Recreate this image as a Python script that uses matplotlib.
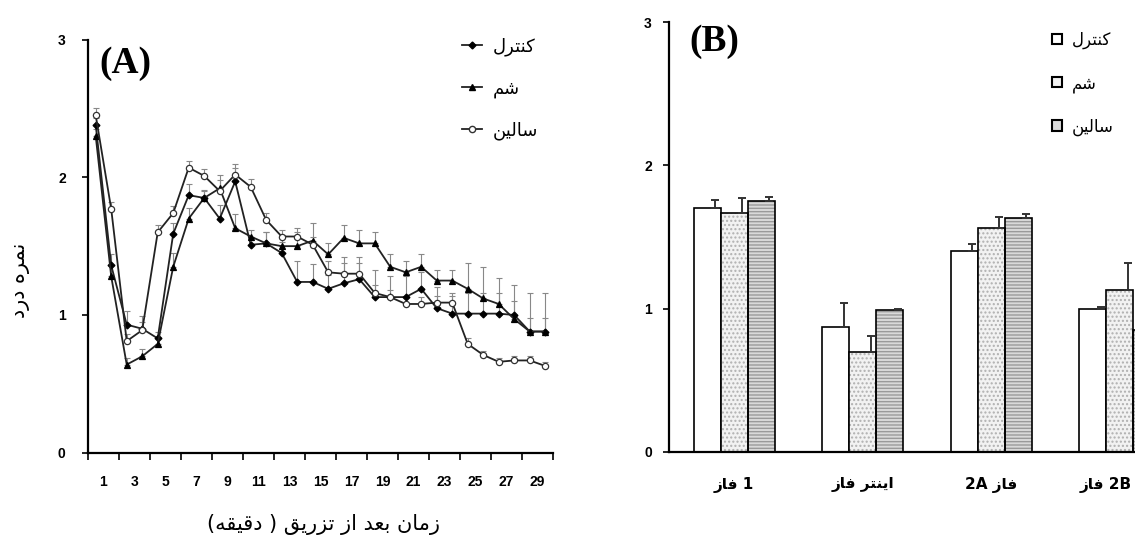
import matplotlib
matplotlib.use("Agg")
import matplotlib.pyplot as plt
import matplotlib.transforms as mtransforms
from matplotlib.lines import Line2D
from matplotlib.patches import Patch
import numpy as np

# ---------------- data ----------------
minutes = list(range(1, 31))
tick_labels_a = ["1", "3", "5", "7", "9", "11", "13", "15", "17", "19", "21", "23", "25", "27", "29"]

control = [2.38, 1.36, 0.93, 0.90, 0.83, 1.59, 1.87, 1.85, 1.70, 1.97, 1.51, 1.52, 1.45, 1.24, 1.24,
           1.19, 1.23, 1.26, 1.13, 1.13, 1.13, 1.19, 1.05, 1.01, 1.01, 1.01, 1.01, 1.00, 0.88, 0.88]
control_err = [0.05, 0.08, 0.10, 0.05, 0.05, 0.08, 0.08, 0.06, 0.10, 0.10, 0.06, 0.08, 0.08, 0.15, 0.13,
               0.10, 0.19, 0.16, 0.20, 0.15, 0.15, 0.12, 0.15, 0.15, 0.15, 0.15, 0.15, 0.10, 0.10, 0.10]
sham = [2.30, 1.28, 0.64, 0.70, 0.79, 1.35, 1.70, 1.85, 1.92, 1.63, 1.57, 1.52, 1.50, 1.50, 1.54,
        1.44, 1.56, 1.52, 1.52, 1.35, 1.31, 1.35, 1.25, 1.25, 1.19, 1.12, 1.08, 0.97, 0.88, 0.88]
sham_err = [0.05, 0.08, 0.05, 0.05, 0.05, 0.10, 0.08, 0.05, 0.10, 0.10, 0.05, 0.08, 0.08, 0.10, 0.13,
            0.08, 0.09, 0.10, 0.08, 0.09, 0.08, 0.09, 0.08, 0.08, 0.19, 0.23, 0.19, 0.25, 0.28, 0.28]
saline = [2.45, 1.77, 0.81, 0.89, 1.60, 1.74, 2.07, 2.01, 1.90, 2.02, 1.93, 1.69, 1.57, 1.57, 1.51,
          1.31, 1.30, 1.30, 1.16, 1.13, 1.08, 1.08, 1.09, 1.09, 0.79, 0.71, 0.66, 0.67, 0.67, 0.63]
saline_err = [0.05, 0.05, 0.05, 0.10, 0.05, 0.05, 0.05, 0.05, 0.08, 0.08, 0.06, 0.05, 0.05, 0.06, 0.06,
              0.08, 0.08, 0.08, 0.06, 0.05, 0.05, 0.05, 0.05, 0.05, 0.04, 0.03, 0.03, 0.03, 0.03, 0.03]

phases = ["phase1", "inter", "phase2A", "phase2B"]
bar_control = [1.70, 0.87, 1.40, 1.00]
bar_control_err = [0.06, 0.17, 0.05, 0.01]
bar_sham = [1.67, 0.70, 1.56, 1.13]
bar_sham_err = [0.10, 0.11, 0.08, 0.19]
bar_saline = [1.75, 0.99, 1.63, 0.85]
bar_saline_err = [0.03, 0.01, 0.03, 0.17]

# ---------------- simple Persian shaping (visual order) ----------------
FORMS = {  # isolated, final, initial, medial
    'ا': ('\uFE8D', '\uFE8E', None, None),
    'ب': ('\uFE8F', '\uFE90', '\uFE91', '\uFE92'),
    'ت': ('\uFE95', '\uFE96', '\uFE97', '\uFE98'),
    'د': ('\uFEA9', '\uFEAA', None, None),
    'ر': ('\uFEAD', '\uFEAE', None, None),
    'ز': ('\uFEAF', '\uFEB0', None, None),
    'س': ('\uFEB1', '\uFEB2', '\uFEB3', '\uFEB4'),
    'ش': ('\uFEB5', '\uFEB6', '\uFEB7', '\uFEB8'),
    'ع': ('\uFEC9', '\uFECA', '\uFECB', '\uFECC'),
    'ف': ('\uFED1', '\uFED2', '\uFED3', '\uFED4'),
    'ق': ('\uFED5', '\uFED6', '\uFED7', '\uFED8'),
    'ل': ('\uFEDD', '\uFEDE', '\uFEDF', '\uFEE0'),
    'م': ('\uFEE1', '\uFEE2', '\uFEE3', '\uFEE4'),
    'ن': ('\uFEE5', '\uFEE6', '\uFEE7', '\uFEE8'),
    'ه': ('\uFEE9', '\uFEEA', '\uFEEB', '\uFEEC'),
    'ک': ('\uFB8E', '\uFB8F', '\uFB90', '\uFB91'),
    'ی': ('\uFBFC', '\uFBFD', '\uFBFE', '\uFBFF'),
}


def ar(text):
    """Shape Persian letters and return them in visual (left-to-right) order."""
    out = []
    n = len(text)
    for i, ch in enumerate(text):
        f = FORMS.get(ch)
        if f is None:
            out.append(ch)
            continue
        prev = text[i - 1] if i > 0 else None
        nxt = text[i + 1] if i < n - 1 else None
        jp = prev in FORMS and FORMS[prev][2] is not None
        jn = nxt in FORMS and f[2] is not None
        if jp and jn:
            out.append(f[3])
        elif jp:
            out.append(f[1])
        elif jn:
            out.append(f[2])
        else:
            out.append(f[0])
    mirror = {'(': ')', ')': '('}
    return ''.join(mirror.get(c, c) for c in reversed(out))


lab_control = ar('کنترل')
lab_sham = ar('شم')
lab_saline = ar('سالین')
xlabel_a = ar('زمان بعد از تزریق ( دقیقه)')
ylabel = ar('نمره درد')
phase_labels = [ar('فاز') + ' 1', ar('اینتر فاز'), '2A ' + ar('فاز'), ar('فاز') + ' 2B']

AFONT = ['DejaVu Sans']

# ---------------- figure ----------------
fig = plt.figure(figsize=(11.35, 5.49), dpi=100)
fig.patch.set_facecolor('white')

# ----- panel A -----
ax = fig.add_axes([0.0775, 0.1754, 0.4097, 0.7525])
x = np.array(minutes)
line_col = '#222222'
styles = [
    (control, control_err, 'D', 'black', 'black', 3.5),
    (sham, sham_err, '^', 'black', 'black', 4.5),
    (saline, saline_err, 'o', 'white', '#333333', 4.5),
]
for vals, err, mk, mfc, mec, ms in styles:
    ax.errorbar(x, vals, yerr=[np.zeros(len(err)), err], fmt='none', ecolor='#888888',
                elinewidth=0.8, capsize=2, capthick=0.8, zorder=2)
for vals, err, mk, mfc, mec, ms in styles:
    ax.plot(x, vals, color=line_col, lw=1.3, marker=mk, ms=ms, mfc=mfc, mec=mec, mew=0.9, zorder=3)

ax.set_xlim(0.5, 30.5)
ax.set_ylim(0, 3)
ax.spines['top'].set_visible(False)
ax.spines['right'].set_visible(False)
ax.spines['left'].set_linewidth(1.6)
ax.spines['bottom'].set_linewidth(1.6)
ax.set_xticks(np.arange(1.5, 30.5, 2))
ax.set_xticklabels(tick_labels_a, fontsize=10, fontweight='bold', family='Liberation Sans')
ax.set_xticks(np.arange(0.5, 31.0, 1), minor=True)
ax.tick_params(axis='x', which='major', length=0, pad=16)
ax.tick_params(axis='x', which='minor', length=5, width=1.2, direction='out')
ax.set_yticks([0, 1, 2, 3])
ax.set_yticklabels(['0', '1', '2', '3'], fontsize=10, fontweight='bold', family='Liberation Sans')
ax.tick_params(axis='y', length=4, width=1.2, direction='out', pad=12)

ax.text(0.025, 0.985, '(A)', transform=ax.transAxes, fontsize=27, fontweight='bold',
        family='Liberation Serif', va='top', ha='left')

handles_a = [
    Line2D([], [], color=line_col, lw=1.3, marker='D', ms=3.5, mfc='black', mec='black'),
    Line2D([], [], color=line_col, lw=1.3, marker='^', ms=4.5, mfc='black', mec='black'),
    Line2D([], [], color=line_col, lw=1.3, marker='o', ms=4.5, mfc='white', mec='#333333'),
]
ax.legend(handles_a, [lab_control, lab_sham, lab_saline], loc='upper left',
          bbox_to_anchor=(0.77, 1.045), frameon=False, handlelength=1.1,
          handletextpad=0.6, labelspacing=1.3, prop={'family': AFONT, 'size': 13})

fig.text(0.285, 0.045, xlabel_a, ha='center', va='center', fontsize=15, family=AFONT)
fig.text(0.018, 0.49, ylabel, ha='center', va='center', rotation=90, fontsize=15, family=AFONT)

# ----- panel B -----
bx = fig.add_axes([0.589, 0.1767, 0.411, 0.783])
g = np.arange(len(phases))
w = 0.21
bx.bar(g - w, bar_control, w, color='white', edgecolor='black', lw=1.2, zorder=2)
bx.bar(g, bar_sham, w, color='#f2f2f2', edgecolor='#b0b0b0', hatch='....', lw=0, zorder=2)
bx.bar(g, bar_sham, w, color='none', edgecolor='black', lw=1.2, zorder=3)
bx.bar(g + w, bar_saline, w, color='#d9d9d9', edgecolor='#9a9a9a', hatch='-----', lw=0, zorder=2)
bx.bar(g + w, bar_saline, w, color='none', edgecolor='black', lw=1.2, zorder=3)
for off, vals, err in [(-w, bar_control, bar_control_err), (0, bar_sham, bar_sham_err),
                       (w, bar_saline, bar_saline_err)]:
    bx.errorbar(g + off + w * 0.3, vals, yerr=[np.zeros(len(err)), err], fmt='none',
                ecolor='#333333', elinewidth=1.4, capsize=3, capthick=1.4, zorder=4)

bx.set_xlim(-0.51, 3.12)
bx.set_ylim(0, 3)
bx.spines['top'].set_visible(False)
bx.spines['right'].set_visible(False)
bx.spines['left'].set_linewidth(1.6)
bx.spines['bottom'].set_linewidth(1.6)
bx.set_xticks(g)
bx.set_xticklabels(phase_labels, fontsize=11, fontweight='bold', family=AFONT)
bx.tick_params(axis='x', length=0, pad=18)
last = bx.get_xticklabels()[-1]
last.set_horizontalalignment('right')
last.set_transform(last.get_transform() +
                   mtransforms.ScaledTranslation(12 / 100, 0, fig.dpi_scale_trans))
bx.set_yticks([0, 1, 2, 3])
bx.set_yticklabels(['0', '1', '2', '3'], fontsize=10, fontweight='bold', family='Liberation Sans')
bx.tick_params(axis='y', length=4, width=1.2, direction='out', pad=8)

bx.text(0.045, 0.995, '(B)', transform=bx.transAxes, fontsize=27, fontweight='bold',
        family='Liberation Serif', va='top', ha='left')

handles_b = [
    Patch(facecolor='white', edgecolor='black', lw=1.5),
    Patch(facecolor='#f2f2f2', edgecolor='black', lw=1.5),
    Patch(facecolor='#d9d9d9', edgecolor='black', lw=1.5),
]
bx.legend(handles_b, [lab_control, lab_sham, lab_saline], loc='upper left',
          bbox_to_anchor=(0.79, 1.015), frameon=False, handlelength=0.6, handleheight=0.6,
          handletextpad=0.6, labelspacing=1.5, prop={'family': AFONT, 'size': 12})

fig.savefig('out.png', dpi=100, facecolor='white')
